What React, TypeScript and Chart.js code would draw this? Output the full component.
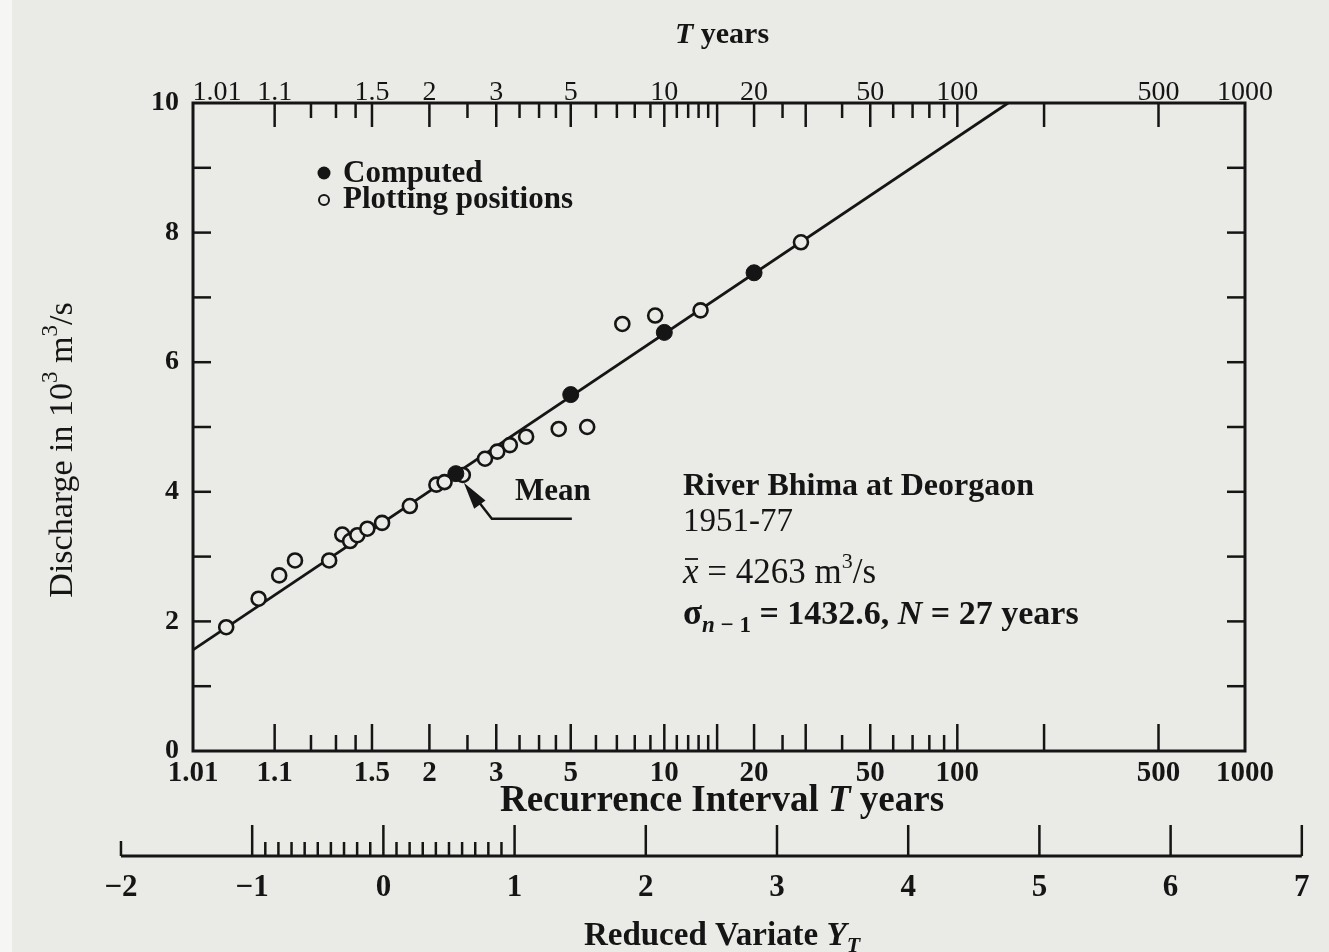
import React, { useEffect, useRef } from 'react';
import { Chart, registerables, LinearScale } from 'chart.js';

// ---------------- data ----------------
// Plotting positions (recurrence interval T in years, discharge in 10^3 m^3/s)
const plottingT = [1.03, 1.07, 1.11, 1.15, 1.27, 1.33, 1.37, 1.41, 1.47, 1.57, 1.8, 2.08, 2.18, 2.43, 2.79, 3.02, 3.28, 3.66, 4.59, 5.63, 7.29, 9.33, 13.2, 28.9];
const plottingQ = [1.91, 2.35, 2.71, 2.94, 2.94, 3.34, 3.24, 3.33, 3.43, 3.52, 3.78, 4.11, 4.15, 4.26, 4.51, 4.62, 4.72, 4.85, 4.97, 5.0, 6.59, 6.72, 6.8, 7.85];
// Computed (Gumbel) values
const computedT = [2.33, 5, 10, 20];
const computedQ = [4.28, 5.5, 6.46, 7.38];
// Fitted straight line end points
const fittedT = [1.01, 150];
const fittedQ = [1.56, 10];

// Axis ticks
const tLabelTicks = [1.01, 1.1, 1.5, 2, 3, 5, 10, 20, 50, 100, 500, 1000];
const tMajorMarks = [1.1, 1.5, 2, 3, 5, 10, 15, 20, 30, 50, 100, 200, 500];
const tMinorMarks = [1.2, 1.3, 1.4, 2.5, 3.5, 4, 4.5, 6, 7, 8, 9, 11, 12, 13, 14, 25, 40, 60, 70, 80, 90];
const qTickMarks = [1, 2, 3, 4, 5, 6, 7, 8, 9];
const yvLabels = [-2, -1, 0, 1, 2, 3, 4, 5, 6, 7];
const yvMinorMarks = [-0.9, -0.8, -0.7, -0.6, -0.5, -0.4, -0.3, -0.2, -0.1, 0.1, 0.2, 0.3, 0.4, 0.5, 0.6, 0.7, 0.8, 0.9];

const stationName = 'River Bhima at Deorgaon';
const stationPeriod = '1951-77';
const meanText = '4263';
const sigmaText = '1432.6';
const nText = '27';

// ---------------- styling ----------------
const PAPER = '#eaeae6';
const INK = '#151515';
const SERIF = '"Liberation Serif", "Times New Roman", serif';
const TOP_FIRST_LABEL_SHIFT = 24;

const gumbelY = (T: number) => -Math.log(-Math.log(1 - 1 / T));

class GumbelScale extends LinearScale {
  static id = 'gumbel';
  static defaults = {};
  determineDataLimits() {
    const o: any = this.options;
    (this as any).min = gumbelY(o.min);
    (this as any).max = gumbelY(o.max);
  }
  buildTicks() {
    return tLabelTicks.map((v) => ({ value: v }));
  }
  getPixelForValue(value: number) {
    if (value == null || !(value > 1)) return NaN;
    const s: any = this;
    return this.getPixelForDecimal((gumbelY(value) - s.min) / (s.max - s.min));
  }
  getPixelForTick(index: number) {
    const p = super.getPixelForTick(index);
    return (this as any).id === 'xTop' && index === 0 ? p + TOP_FIRST_LABEL_SHIFT : p;
  }
  getValueForPixel(pixel: number) {
    const s: any = this;
    const yv = s.min + this.getDecimalForPixel(pixel) * (s.max - s.min);
    return 1 / (1 - Math.exp(-Math.exp(-yv)));
  }
}

Chart.register(...registerables, GumbelScale as any);

type Run = { t: string; f: string; dy?: number };
function drawRuns(ctx: CanvasRenderingContext2D, parts: Run[], x: number, y: number, align: 'left' | 'center' = 'left') {
  let w = 0;
  for (const p of parts) {
    ctx.font = p.f;
    w += ctx.measureText(p.t).width;
  }
  let cx = align === 'center' ? x - w / 2 : x;
  ctx.textAlign = 'left';
  ctx.textBaseline = 'alphabetic';
  const starts: number[] = [];
  for (const p of parts) {
    ctx.font = p.f;
    starts.push(cx);
    ctx.fillText(p.t, cx, y + (p.dy || 0));
    cx += ctx.measureText(p.t).width;
  }
  return starts;
}

const decorPlugin = {
  id: 'decor',
  beforeDraw(chart: any) {
    const ctx = chart.ctx;
    ctx.save();
    ctx.fillStyle = PAPER;
    ctx.fillRect(0, 0, chart.width, chart.height);
    ctx.fillStyle = '#f6f6f4';
    ctx.fillRect(0, 0, 12, chart.height);
    ctx.restore();
  },
  afterDraw(chart: any) {
    const ctx: CanvasRenderingContext2D = chart.ctx;
    const a = chart.chartArea;
    const sx = chart.scales.x;
    const sy = chart.scales.y;
    const sr = chart.scales.xr;
    ctx.save();
    ctx.strokeStyle = INK;
    ctx.fillStyle = INK;
    ctx.lineCap = 'square';
    const seg = (x1: number, y1: number, x2: number, y2: number) => {
      ctx.beginPath();
      ctx.moveTo(x1, y1);
      ctx.lineTo(x2, y2);
      ctx.stroke();
    };
    // frame
    ctx.lineWidth = 3;
    ctx.strokeRect(a.left, a.top, a.right - a.left, a.bottom - a.top);
    // T-axis tick marks (inside, top and bottom)
    ctx.lineWidth = 2.5;
    ctx.lineCap = 'butt';
    for (const t of tMajorMarks) {
      const p = sx.getPixelForValue(t);
      seg(p, a.bottom, p, a.bottom - 27);
      seg(p, a.top, p, a.top + 24);
    }
    for (const t of tMinorMarks) {
      const p = sx.getPixelForValue(t);
      seg(p, a.bottom, p, a.bottom - 16);
      seg(p, a.top, p, a.top + 15);
    }
    // discharge tick marks (inside, left and right)
    for (const q of qTickMarks) {
      const p = sy.getPixelForValue(q);
      seg(a.left, p, a.left + 18, p);
      seg(a.right, p, a.right - 18, p);
    }

    // reduced variate axis
    const base = 856;
    ctx.lineWidth = 3;
    seg(sr.getPixelForValue(yvLabels[0]), base, sr.getPixelForValue(yvLabels[yvLabels.length - 1]), base);
    ctx.lineWidth = 2.5;
    ctx.textAlign = 'center';
    ctx.textBaseline = 'middle';
    ctx.font = `bold 31px ${SERIF}`;
    for (const v of yvLabels) {
      const p = sr.getPixelForValue(v);
      seg(p, base, p, base - (v === yvLabels[0] ? 15 : 31));
      ctx.fillText(v < 0 ? '\u2212' + Math.abs(v) : String(v), p, 888);
    }
    for (const v of yvMinorMarks) {
      const p = sr.getPixelForValue(v);
      seg(p, base, p, base - 14);
    }

    // axis titles
    const B = (s: number) => `bold ${s}px ${SERIF}`;
    const BI = (s: number) => `italic bold ${s}px ${SERIF}`;
    const R = (s: number) => `${s}px ${SERIF}`;
    const I = (s: number) => `italic ${s}px ${SERIF}`;
    drawRuns(ctx, [{ t: 'T', f: BI(30) }, { t: ' years', f: B(30) }], 722, 43, 'center');
    drawRuns(ctx, [{ t: 'Recurrence Interval ', f: B(37) }, { t: 'T', f: BI(37) }, { t: ' years', f: B(37) }], 722, 811, 'center');
    drawRuns(ctx, [{ t: 'Reduced Variate ', f: B(33) }, { t: 'Y', f: BI(33) }, { t: 'T', f: BI(22), dy: 7 }], 722, 945, 'center');

    // vertical title
    ctx.save();
    ctx.translate(72, 450);
    ctx.rotate(-Math.PI / 2);
    drawRuns(ctx, [
      { t: 'Discharge in 10', f: R(34) },
      { t: '3', f: R(23), dy: -15 },
      { t: ' m', f: R(34) },
      { t: '3', f: R(23), dy: -15 },
      { t: '/s', f: R(34) },
    ], 0, 0, 'center');
    ctx.restore();

    // legend (inside plot)
    const ds1 = chart.data.datasets[1];
    const ds2 = chart.data.datasets[2];
    ctx.beginPath();
    ctx.arc(324, 173, 6.5, 0, Math.PI * 2);
    ctx.fillStyle = ds2.pointBackgroundColor;
    ctx.fill();
    ctx.beginPath();
    ctx.arc(324, 200, 5, 0, Math.PI * 2);
    ctx.fillStyle = ds1.pointBackgroundColor;
    ctx.fill();
    ctx.lineWidth = 2;
    ctx.strokeStyle = ds1.pointBorderColor;
    ctx.stroke();
    ctx.fillStyle = INK;
    drawRuns(ctx, [{ t: ds2.label, f: B(31) }], 343, 182);
    drawRuns(ctx, [{ t: ds1.label, f: B(31) }], 343, 208);

    // Mean annotation with arrow
    const mx = sx.getPixelForValue(computedT[0]);
    const my = sy.getPixelForValue(computedQ[0]);
    ctx.strokeStyle = INK;
    ctx.lineWidth = 2.5;
    ctx.lineJoin = 'miter';
    ctx.beginPath();
    ctx.moveTo(mx + 116, my + 45);
    ctx.lineTo(mx + 36, my + 45);
    ctx.lineTo(mx + 22, my + 27);
    ctx.stroke();
    // arrow head
    const tipX = mx + 8, tipY = my + 9;
    const bx = mx + 24, by = my + 31;
    const ang = Math.atan2(by - tipY, bx - tipX);
    const hw = 7;
    ctx.beginPath();
    ctx.moveTo(tipX, tipY);
    ctx.lineTo(bx + Math.sin(ang) * hw, by - Math.cos(ang) * hw);
    ctx.lineTo(bx - Math.sin(ang) * hw, by + Math.cos(ang) * hw);
    ctx.closePath();
    ctx.fill();
    drawRuns(ctx, [{ t: 'Mean', f: B(31) }], 515, 500);

    // station text block
    const tx = 683;
    drawRuns(ctx, [{ t: stationName, f: B(32) }], tx, 495);
    drawRuns(ctx, [{ t: stationPeriod, f: R(33) }], tx, 531);
    const st = drawRuns(ctx, [
      { t: 'x', f: I(35) },
      { t: ' = ' + meanText + ' m', f: R(35) },
      { t: '3', f: R(22), dy: -15 },
      { t: '/s', f: R(35) },
    ], tx, 583);
    // bar over x
    ctx.lineWidth = 1.8;
    seg(st[0] + 2, 559, st[0] + 15, 559);
    drawRuns(ctx, [
      { t: '\u03C3', f: B(35) },
      { t: 'n', f: BI(23), dy: 8 },
      { t: ' \u2212 1', f: B(23), dy: 8 },
      { t: ' = ' + sigmaText + ', ', f: B(34) },
      { t: 'N', f: BI(34) },
      { t: ' = ' + nText + ' years', f: B(34) },
    ], tx, 624);

    ctx.restore();
  },
};

export default function App() {
  const ref = useRef<HTMLCanvasElement | null>(null);
  useEffect(() => {
    if (!ref.current) return;
    const tickFontBottom = { family: SERIF, size: 29, weight: 'bold' as const };
    const tickFontTop = { family: SERIF, size: 28, lineHeight: 1 };
    const chart = new Chart(ref.current, {
      type: 'scatter',
      data: {
        datasets: [
          {
            label: 'Fitted line',
            data: fittedT.map((t, i) => ({ x: t, y: fittedQ[i] })),
            showLine: true,
            borderColor: INK,
            borderWidth: 2.8,
            pointRadius: 0,
            xAxisID: 'x',
            yAxisID: 'y',
            order: 3,
          },
          {
            label: 'Plotting positions',
            data: plottingT.map((t, i) => ({ x: t, y: plottingQ[i] })),
            pointRadius: 7,
            pointBorderWidth: 2.6,
            pointBackgroundColor: PAPER,
            pointBorderColor: INK,
            backgroundColor: PAPER,
            borderColor: INK,
            xAxisID: 'x',
            yAxisID: 'y',
            order: 2,
          },
          {
            label: 'Computed',
            data: computedT.map((t, i) => ({ x: t, y: computedQ[i] })),
            pointRadius: 8,
            pointBorderWidth: 1,
            pointBackgroundColor: INK,
            pointBorderColor: INK,
            backgroundColor: INK,
            borderColor: INK,
            xAxisID: 'x',
            yAxisID: 'y',
            order: 1,
          },
        ],
      },
      options: {
        responsive: false,
        animation: false,
        devicePixelRatio: 1,
        layout: { padding: { left: 133, right: 84, top: 43, bottom: 156 } },
        plugins: { legend: { display: false }, tooltip: { enabled: false } },
        scales: {
          x: {
            type: 'gumbel' as any,
            position: 'bottom',
            min: 1.01,
            max: 1000,
            grid: { display: false, drawTicks: false },
            border: { display: false },
            ticks: {
              autoSkip: false,
              maxRotation: 0,
              minRotation: 0,
              padding: 5,
              color: INK,
              font: tickFontBottom,
              callback: (v: any) => String(v),
            },
            afterFit: (s: any) => {
              s.height = 45;
            },
          } as any,
          xTop: {
            type: 'gumbel' as any,
            position: 'top',
            min: 1.01,
            max: 1000,
            grid: { display: false, drawTicks: false },
            border: { display: false },
            ticks: {
              autoSkip: false,
              maxRotation: 0,
              minRotation: 0,
              padding: -4,
              color: INK,
              font: tickFontTop,
              callback: (v: any) => String(v),
            },
            afterFit: (s: any) => {
              s.height = 60;
            },
          } as any,
          xr: {
            type: 'linear',
            display: false,
            min: -1.451,
            max: 6.567,
          },
          y: {
            type: 'linear',
            position: 'left',
            min: 0,
            max: 10,
            grid: { display: false, drawTicks: false },
            border: { display: false },
            ticks: {
              stepSize: 2,
              padding: 14,
              color: INK,
              font: { family: SERIF, size: 28, weight: 'bold' },
            },
            afterFit: (s: any) => {
              s.width = 60;
            },
          },
        },
      },
      plugins: [decorPlugin],
    } as any);
    return () => chart.destroy();
  }, []);
  return (
    <div style={{ position: 'fixed', left: 0, top: 0, width: 1329, height: 952, background: PAPER }}>
      <canvas ref={ref} width={1329} height={952} style={{ display: 'block', width: 1329, height: 952 }} />
    </div>
  );
}
